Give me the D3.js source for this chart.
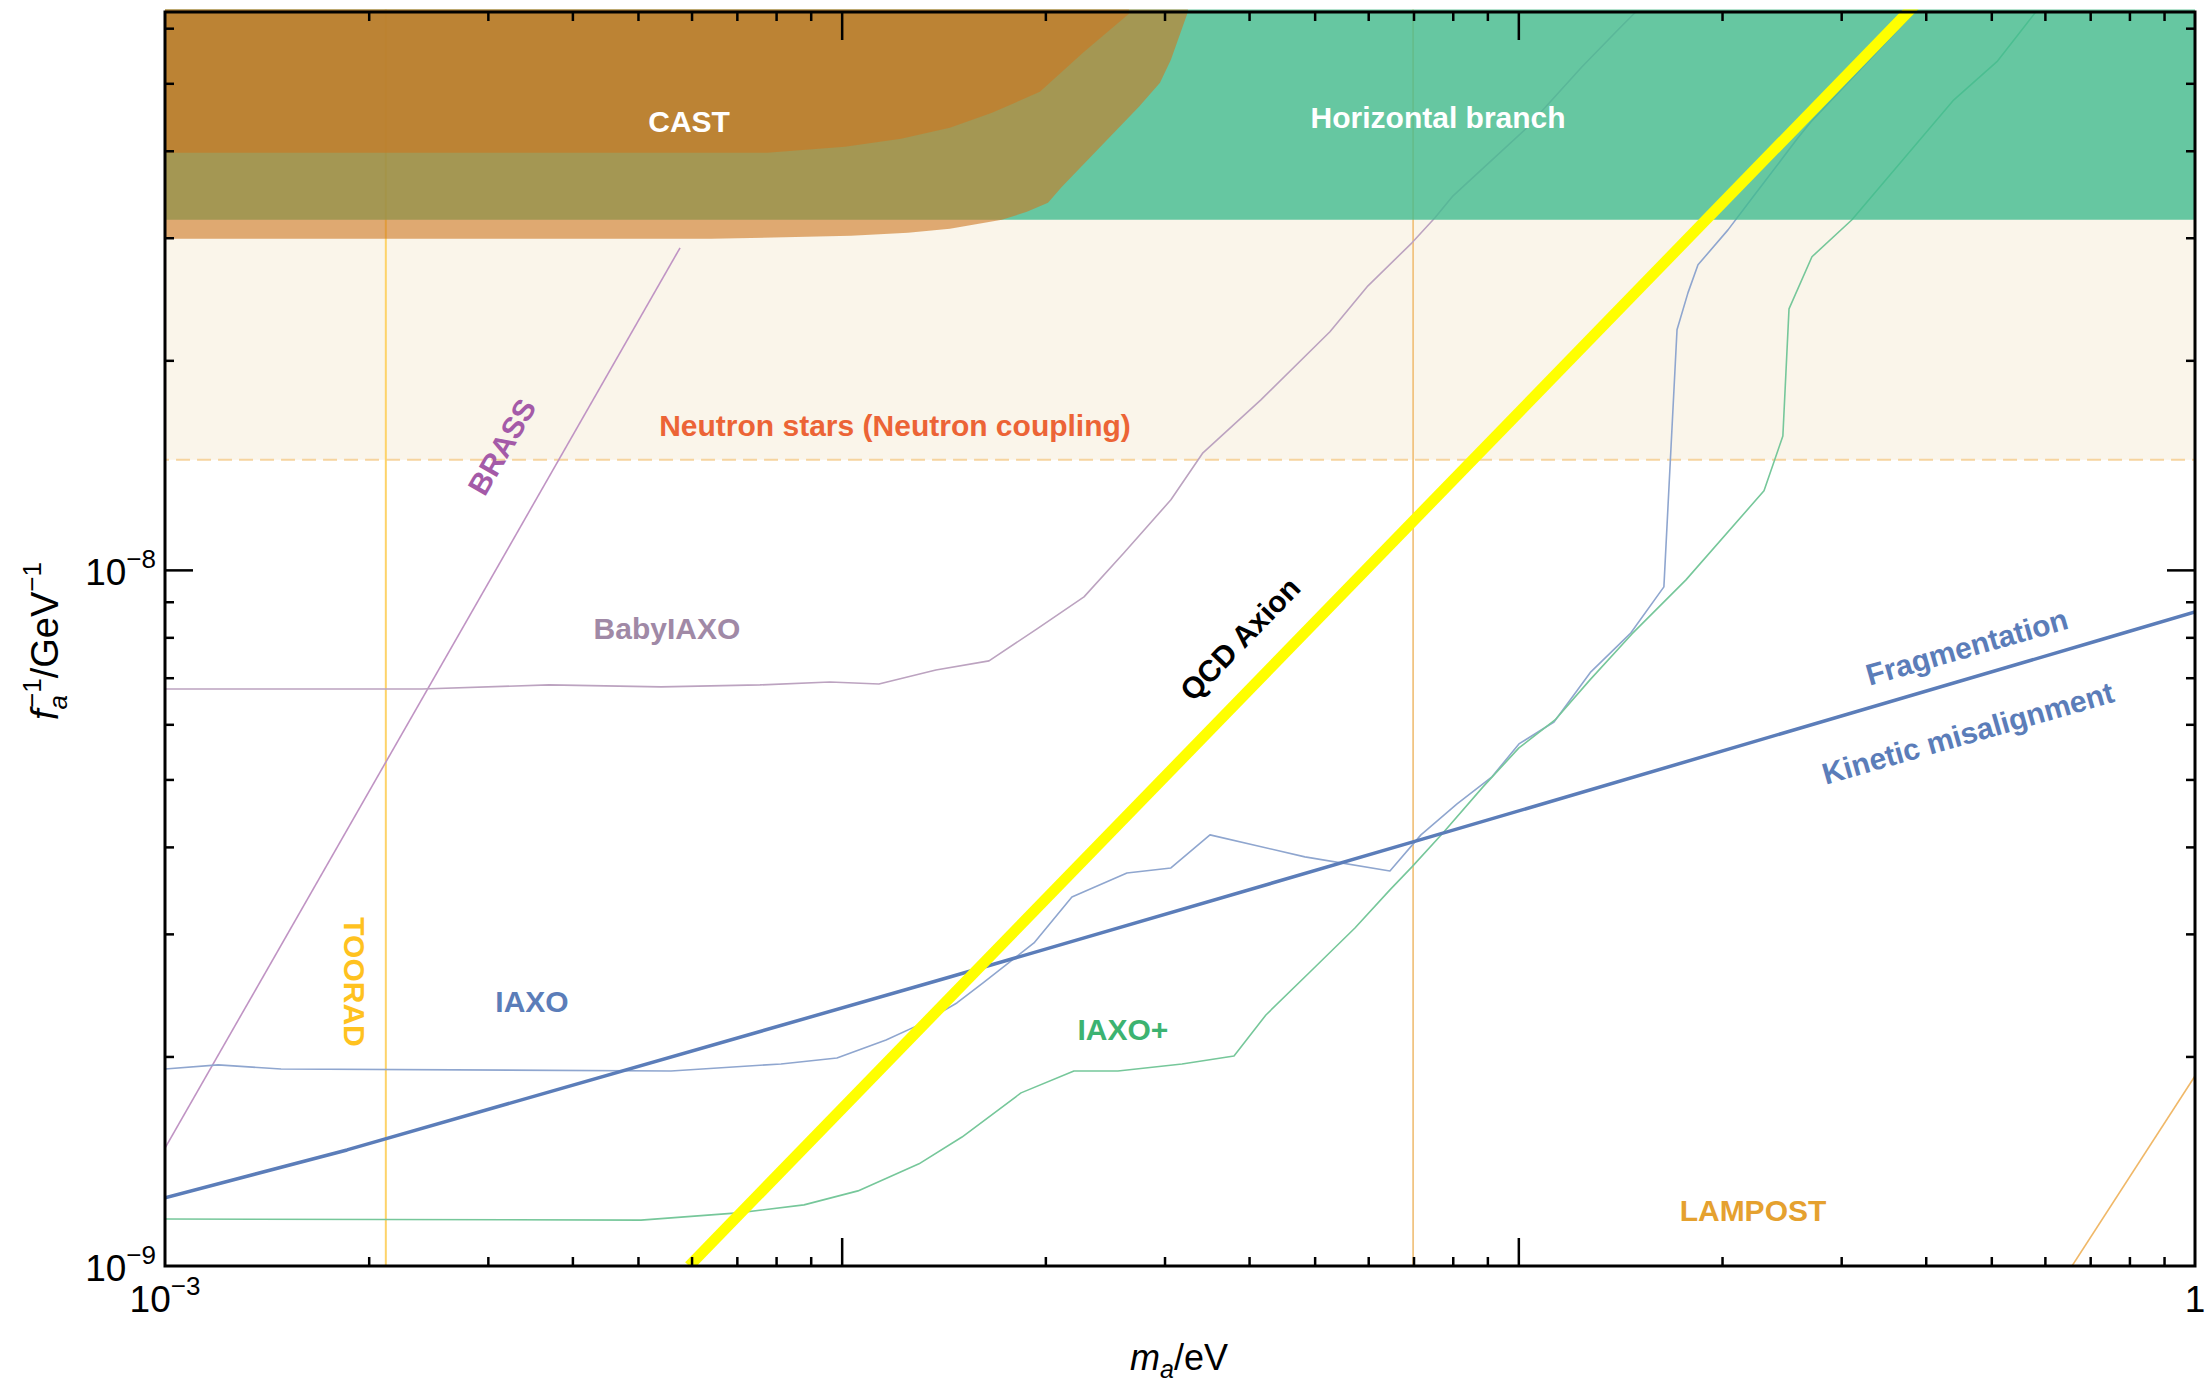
<!DOCTYPE html>
<html><head><meta charset="utf-8">
<script src="https://cdn.jsdelivr.net/npm/d3@7"></script>
<style>
html,body{margin:0;padding:0;background:#fff;}
svg{display:block;font-family:"Liberation Sans",Arial,Helvetica,sans-serif;}
</style></head><body>
<svg id="chart" width="2206" height="1382"></svg>
<script>
// ---------------- data (m_a in eV, f_a^-1 in GeV^-1) ----------------
const xDomain = [1e-3, 1];
const yDomain = [1e-9, 6.33e-8];

const qcdM = [5.95e-3, 0.595];
const qcdF = [1e-9, 1e-7];

const fragM = [1e-3, 1.858e-3, 1.445e-2, 6.988e-2, 0.7235, 1];
const fragF = [1.253e-9, 1.468e-9, 2.601e-9, 4.066e-9, 7.93e-9, 8.70e-9];

const iaxoM = [1.000e-3, 1.198e-3, 1.484e-3, 5.595e-3, 8.134e-3, 9.84e-3, 1.163e-2, 1.301e-2, 1.480e-2, 1.618e-2,
  1.924e-2, 2.189e-2, 2.640e-2, 3.066e-2, 3.502e-2, 4.837e-2, 6.460e-2, 7.179e-2, 8.118e-2, 9.142e-2,
  0.1002, 0.1129, 0.1280, 0.1467, 0.1641, 0.1716, 0.1781, 0.1843, 0.2041, 0.2229, 0.2590, 0.2707, 0.3856];
const iaxoF = [1.919e-9, 1.945e-9, 1.919e-9, 1.906e-9, 1.951e-9, 1.990e-9, 2.112e-9, 2.220e-9, 2.387e-9, 2.551e-9,
  2.911e-9, 3.390e-9, 3.670e-9, 3.731e-9, 4.162e-9, 3.870e-9, 3.694e-9, 4.162e-9, 4.611e-9, 5.043e-9,
  5.623e-9, 6.047e-9, 7.137e-9, 8.120e-9, 9.454e-9, 2.213e-8, 2.500e-8, 2.743e-8, 3.079e-8, 3.446e-8, 4.176e-8, 4.403e-8, 6.336e-8];

const iaxoPlusM = [1.000e-3, 5.051e-3, 7.026e-3, 8.797e-3, 1.057e-2, 1.301e-2, 1.506e-2, 1.841e-2, 2.204e-2, 2.560e-2,
  3.184e-2, 3.800e-2, 4.236e-2, 4.904e-2, 5.735e-2, 6.460e-2, 6.963e-2, 7.737e-2, 8.867e-2, 0.1002,
  0.1133, 0.1276, 0.1472, 0.1769, 0.2307, 0.2460, 0.2512, 0.2716, 0.3112, 0.4402, 0.5097, 0.5820];
const iaxoPlusF = [1.168e-9, 1.164e-9, 1.192e-9, 1.224e-9, 1.282e-9, 1.402e-9, 1.532e-9, 1.773e-9, 1.906e-9, 1.906e-9,
  1.951e-9, 2.003e-9, 2.294e-9, 2.636e-9, 3.059e-9, 3.470e-9, 3.744e-9, 4.189e-9, 4.878e-9, 5.550e-9,
  6.087e-9, 6.950e-9, 8.091e-9, 9.674e-9, 1.299e-8, 1.557e-8, 2.371e-8, 2.817e-8, 3.184e-8, 4.734e-8, 5.370e-8, 6.336e-8];

const babyM = [1.000e-3, 2.398e-3, 3.694e-3, 5.408e-3, 7.573e-3, 9.610e-3, 1.135e-2, 1.378e-2, 1.651e-2, 1.944e-2,
  2.281e-2, 2.614e-2, 3.066e-2, 3.419e-2, 4.164e-2, 5.267e-2, 5.995e-2, 6.963e-2, 7.530e-2, 8.008e-2,
  9.046e-2, 0.1026, 0.1242, 0.1404, 0.1492];
const babyF = [6.745e-9, 6.745e-9, 6.835e-9, 6.790e-9, 6.835e-9, 6.903e-9, 6.857e-9, 7.182e-9, 7.400e-9, 8.228e-9,
  9.146e-9, 1.058e-8, 1.261e-8, 1.473e-8, 1.755e-8, 2.198e-8, 2.559e-8, 2.950e-8, 3.205e-8, 3.446e-8,
  3.844e-8, 4.302e-8, 5.281e-8, 5.969e-8, 6.336e-8];

const brassM = [1e-3, 5.77e-3];
const brassF = [1.477e-9, 2.902e-8];

const lampostM = [0.658, 1];
const lampostF = [1e-9, 1.875e-9];

const tooradM = [2.12e-3, 6.99e-2];

const neutronStarF = 1.44e-8;
const horizontalBranchF = 3.184e-8;

const castOuterM = [1e-3, 6.411e-3, 1.032e-2, 1.253e-2, 1.445e-2, 1.725e-2, 1.878e-2, 2.018e-2, 2.116e-2, 2.750e-2, 2.954e-2, 3.066e-2, 3.249e-2];
const castOuterF = [2.989e-8, 2.989e-8, 3.019e-8, 3.049e-8, 3.090e-8, 3.184e-8, 3.268e-8, 3.367e-8, 3.550e-8, 4.626e-8, 5.009e-8, 5.404e-8, 6.336e-8];
const castInnerM = [1e-3, 7.76e-3, 1.011e-2, 1.224e-2, 1.445e-2, 1.668e-2, 1.963e-2, 2.273e-2, 2.658e-2];
const castInnerF = [3.973e-8, 3.973e-8, 4.054e-8, 4.162e-8, 4.316e-8, 4.535e-8, 4.861e-8, 5.531e-8, 6.295e-8];

const xTickMinor = [2,3,4,5,6,7,8,9].flatMap(k => [1e-3,1e-2,1e-1].map(d => k*d));
const xTickMajor = [1e-2, 1e-1];
const yTickMinor = [2e-9,3e-9,4e-9,5e-9,6e-9,7e-9,8e-9,9e-9,2e-8,3e-8,4e-8,5e-8,6e-8];
const yTickMajor = [1e-8];
const xTickLabelValues = [1e-3, 1];
const xTickLabelBase = ["10", "1"];
const xTickLabelExp = ["−3", ""];
const yTickLabelValues = [1e-9, 1e-8];
const yTickLabelExp = ["−9", "−8"];

const labelText = ["CAST","Horizontal branch","Neutron stars (Neutron coupling)","BRASS","BabyIAXO","QCD Axion",
  "Fragmentation","Kinetic misalignment","TOORAD","IAXO","IAXO+","LAMPOST"];
const labelM = [5.95e-3, 0.0761, 0.01199, 3.148e-3, 5.517e-3, 3.879e-2, 0.4601, 0.4617, 1.903e-3, 3.486e-3, 2.604e-2, 0.2222];
const labelF = [4.26e-8, 4.32e-8, 1.557e-8, 1.502e-8, 7.96e-9, 7.96e-9, 7.75e-9, 5.83e-9, 2.558e-9, 2.317e-9, 2.112e-9, 1.161e-9];

// ---------------- styles ----------------
const labelStyle = [
  {color:"#ffffff", angle:0, center:false, weight:"bold"},
  {color:"#ffffff", angle:0, center:false, weight:"bold"},
  {color:"#EC6436", angle:0, center:false, weight:"bold"},
  {color:"#A45AA8", angle:-60, center:true, weight:"bold"},
  {color:"#A089A6", angle:0, center:false, weight:"bold"},
  {color:"#000000", angle:-46, center:true, weight:"bold"},
  {color:"#5B7DB9", angle:-16, center:true, weight:"bold"},
  {color:"#5B7DB9", angle:-16, center:true, weight:"bold"},
  {color:"#FFC21F", angle:90, center:true, weight:"bold"},
  {color:"#5B7DB9", angle:0, center:false, weight:"bold"},
  {color:"#3CB371", angle:0, center:false, weight:"bold"},
  {color:"#E5A12F", angle:0, center:false, weight:"bold"}
];

const M = {left:165, right:2195, top:12, bottom:1266};
const svg = d3.select("#chart");
svg.append("rect").attr("width",2206).attr("height",1382).attr("fill","#fff");

const x = d3.scaleLog().domain(xDomain).range([M.left, M.right]);
const y = d3.scaleLog().domain(yDomain).range([M.bottom, M.top]);

svg.append("defs").append("clipPath").attr("id","clip").append("rect")
  .attr("x",M.left).attr("y",M.top-2.5).attr("width",M.right-M.left).attr("height",M.bottom-M.top+2.5);
const plot = svg.append("g").attr("clip-path","url(#clip)");

const zip = (ms, fs) => ms.map((m,i) => [m, fs[i]]);
const line = d3.line().x(d => x(d[0])).y(d => y(d[1]));
const xLo = xDomain[0]*0.9, xHi = xDomain[1]*1.1, yHi = yDomain[1]*1.6, yLo = yDomain[0]*0.9;

// neutron star band (cream)
plot.append("path").attr("d", line([[xLo,neutronStarF],[xHi,neutronStarF],[xHi,yHi],[xLo,yHi]])+"Z")
  .attr("fill","#FAF5EA");
plot.append("path").attr("d", line([[xLo,neutronStarF],[xHi,neutronStarF]]))
  .attr("fill","none").attr("stroke","#F6D49E").attr("stroke-width",2).attr("stroke-dasharray","14,7");

// TOORAD vertical lines
tooradM.forEach((m,i) => {
  plot.append("path").attr("d", line([[m,yLo],[m,yHi]])).attr("fill","none")
    .attr("stroke", i===0 ? "#FDD36A" : "#F0BE74").attr("stroke-width", i===0 ? 2 : 1.6);
});

// sensitivity curves
const curves = [
  {m:brassM, f:brassF, color:"#C094C4", w:1.6},
  {m:babyM, f:babyF, color:"#BCA3C0", w:1.6},
  {m:iaxoM, f:iaxoF, color:"#8FA6CF", w:1.6},
  {m:iaxoPlusM, f:iaxoPlusF, color:"#76C79A", w:1.6},
  {m:lampostM, f:lampostF, color:"#F0B868", w:1.6},
  {m:fragM, f:fragF, color:"#5B7DB9", w:3.5}
];
curves.forEach(c => {
  plot.append("path").attr("d", line(zip(c.m, c.f))).attr("fill","none")
    .attr("stroke", c.color).attr("stroke-width", c.w).attr("stroke-linejoin","round");
});

// horizontal branch
plot.append("path").attr("d", line([[xLo,horizontalBranchF],[xHi,horizontalBranchF],[xHi,yHi],[xLo,yHi]])+"Z")
  .attr("fill","#41BC8E").attr("fill-opacity",0.8);

// CAST regions
[[castOuterM, castOuterF],[castInnerM, castInnerF]].forEach(([ms, fs]) => {
  const pts = zip(ms, fs);
  const last = pts[pts.length-1];
  const poly = [[xLo, fs[0]]].concat(pts, [[last[0], yHi], [xLo, yHi]]);
  plot.append("path").attr("d", line(poly)+"Z").attr("fill","#CD7720").attr("fill-opacity",0.6);
});

// QCD axion line
plot.append("path").attr("d", line(zip(qcdM, qcdF))).attr("fill","none")
  .attr("stroke","#FFFF00").attr("stroke-width",11);

// labels
labelText.forEach((t,i) => {
  const s = labelStyle[i];
  svg.append("text")
    .attr("transform", `translate(${x(labelM[i])},${y(labelF[i])}) rotate(${s.angle})`)
    .attr("text-anchor","middle").attr("dy", s.center ? "0.35em" : null)
    .attr("fill", s.color).attr("font-size", 30).attr("font-weight", s.weight)
    .text(t);
});

// ticks (inward on all sides)
const tickG = svg.append("g");
function ticks(axis, tx, ty, vals, len){
  const g = tickG.append("g").attr("transform",`translate(${tx},${ty})`)
    .call(axis.tickValues(vals).tickSize(-len).tickFormat(""));
  g.select(".domain").remove();
  g.selectAll("line").attr("stroke","#000").attr("stroke-width",2.5);
}
ticks(d3.axisBottom(x), 0, M.bottom, xTickMinor, 9);
ticks(d3.axisBottom(x), 0, M.bottom, xTickMajor, 28);
ticks(d3.axisTop(x), 0, M.top, xTickMinor, 9);
ticks(d3.axisTop(x), 0, M.top, xTickMajor, 28);
ticks(d3.axisLeft(y), M.left, 0, yTickMinor, 9);
ticks(d3.axisLeft(y), M.left, 0, yTickMajor, 28);
ticks(d3.axisRight(y), M.right, 0, yTickMinor, 9);
ticks(d3.axisRight(y), M.right, 0, yTickMajor, 28);

// frame
svg.append("rect").attr("x",M.left).attr("y",M.top).attr("width",M.right-M.left).attr("height",M.bottom-M.top)
  .attr("fill","none").attr("stroke","#000").attr("stroke-width",3);

// tick labels
yTickLabelValues.forEach((v,i) => {
  const t = svg.append("text").attr("x", M.left-9).attr("y", y(v)+15).attr("text-anchor","end")
    .attr("font-size",37).attr("fill","#000");
  t.append("tspan").text("10");
  t.append("tspan").attr("font-size",26).attr("dy",-17).text(yTickLabelExp[i]);
});
xTickLabelValues.forEach((v,i) => {
  const t = svg.append("text").attr("x", x(v)).attr("y", M.bottom+46).attr("text-anchor","middle")
    .attr("font-size",37).attr("fill","#000");
  t.append("tspan").text(xTickLabelBase[i]);
  if (xTickLabelExp[i]) t.append("tspan").attr("font-size",26).attr("dy",-17).text(xTickLabelExp[i]);
});

// axis titles
const xt = svg.append("text").attr("x",1179).attr("y",1370).attr("text-anchor","middle").attr("font-size",36);
xt.append("tspan").attr("font-style","italic").text("m");
xt.append("tspan").attr("font-style","italic").attr("font-size",25).attr("dy",8).text("a");
xt.append("tspan").attr("dy",-8).text("/eV");

const yt = svg.append("text").attr("transform","translate(58,641) rotate(-90)").attr("text-anchor","middle").attr("font-size",38);
yt.append("tspan").attr("font-style","italic").text("f");
yt.append("tspan").attr("font-style","italic").attr("font-size",26).attr("dy",9).text("a");
yt.append("tspan").attr("font-size",26).attr("dx",-13).attr("dy",-26).text("−1");
yt.append("tspan").attr("dy",17).text("/GeV");
yt.append("tspan").attr("font-size",26).attr("dy",-17).text("−1");
</script>
</body></html>
